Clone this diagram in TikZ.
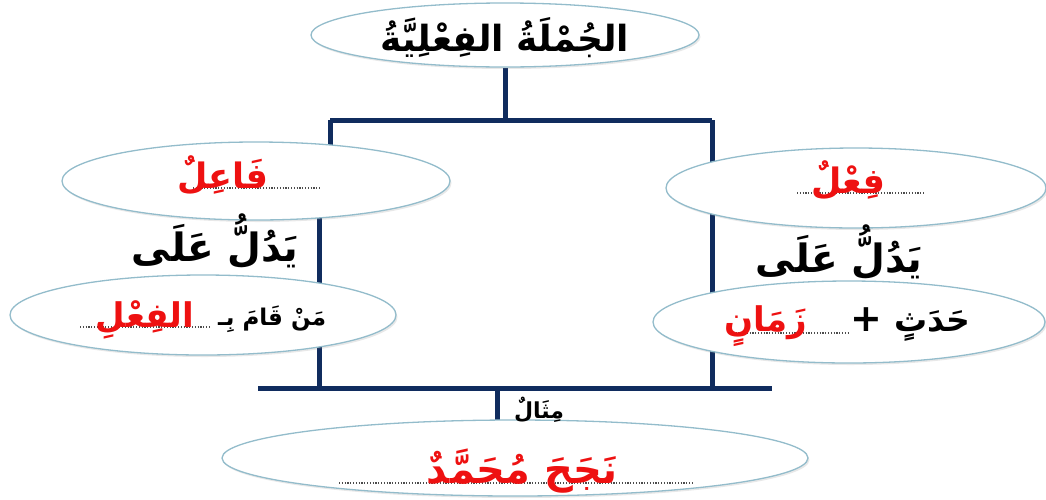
\documentclass[tikz,border=0pt]{standalone}
\usepackage{fontspec}
\usetikzlibrary{shapes.geometric,shadows}
\TeXXeTstate=1
\newfontfamily\arabicfont[Script=Arabic]{DejaVu Sans}
\definecolor{navy}{HTML}{102C5E}
\definecolor{rim}{HTML}{93BCCB}
\definecolor{redtxt}{HTML}{EE1111}
\pgfdeclarelayer{bg}
\pgfsetlayers{bg,main}
\newcommand{\ar}[1]{\beginR #1\endR}
\newcommand{\fs}[1]{\arabicfont\bfseries\fontsize{#1}{#1}\selectfont}
\begin{document}
\begin{tikzpicture}[x=1pt,y=-1pt,
  oval/.style={ellipse, draw=rim, line width=1.3pt, fill=white, inner sep=0pt,
    drop shadow={opacity=0.18, shadow xshift=1.5pt, shadow yshift=-2pt}},
  barline/.style={draw=navy, line width=5pt},
  lbl/.style={inner sep=0pt, anchor=base},
  dotline/.style={dash pattern=on 1.2pt off 1.6pt, line width=1.3pt, black!70}]
\useasboundingbox (0,0) rectangle (1046,499);
% ovals
\node[oval, minimum width=388pt, minimum height=64pt] (title) at (505,35) {};
\node[oval, minimum width=388pt, minimum height=78pt] (faail) at (256,181) {};
\node[oval, minimum width=380pt, minimum height=80pt] (fil) at (856,188) {};
\node[oval, minimum width=386pt, minimum height=80pt] (man) at (203,315) {};
\node[oval, minimum width=392pt, minimum height=82pt] (hadath) at (849,322) {};
\node[oval, minimum width=586pt, minimum height=76pt] (ex) at (515,458) {};
% junction points
\coordinate (tl) at (330,120);
\coordinate (tr) at (712,120);
\coordinate (bl) at (258,388);
\coordinate (br) at (772,388);
\coordinate (lv) at (319,388);
\coordinate (rv) at (712,388);
\coordinate (bm) at (497,388);
\begin{pgfonlayer}{bg}
\draw[barline] (title.south) -- (title.south |- tl);
\draw[barline] (tl) -- (tr);
\draw[barline] (tl) -- (tl |- faail.center);
\draw[barline] (tr) -- (tr |- fil.center);
\draw[barline] (lv |- faail.center) -- (lv);
\draw[barline] (rv |- fil.center) -- (rv);
\draw[barline] (bl) -- (br);
\draw[barline] (bm) -- (bm |- ex.center);
\end{pgfonlayer}
% title
\node[lbl, font=\fs{36}] (ttext) at (505,51) {\ar{الجُمْلَةُ الفِعْلِيَّةُ}};
% faail
\coordinate (d1a) at (193,188); \coordinate (d1b) at (320,188);
\draw[dotline] (d1a) -- (d1b);
\node[lbl, text=redtxt, font=\fs{35}] (faailtext) at (223,188) {\ar{فَاعِلٌ}};
% fil
\coordinate (d2a) at (797,193); \coordinate (d2b) at (925,193);
\draw[dotline] (d2a) -- (d2b);
\node[lbl, text=redtxt, font=\fs{35}] (filtext) at (848,193) {\ar{فِعْلٌ}};
% yadullu ala
\node[lbl, font=\fs{39}] (yadl) at (215,261) {\ar{يَدُلُّ عَلَى}};
\node[lbl, font=\fs{39}] (yadr) at (839,272) {\ar{يَدُلُّ عَلَى}};
% man qama bi al-fil
\coordinate (d3a) at (80,327); \coordinate (d3b) at (210,327);
\draw[dotline] (d3a) -- (d3b);
\node[lbl, font=\fs{23}] (mantext) at (272,325) {\ar{مَنْ قَامَ بِـ}};
\node[lbl, text=redtxt, font=\fs{34}] (alfil) at (145,327) {\ar{الفِعْلِ}};
% hadath + zaman
\coordinate (d4a) at (730,333); \coordinate (d4b) at (850,333);
\draw[dotline] (d4a) -- (d4b);
\node[lbl, font=\fs{33}] (hadtext) at (932,331) {\ar{حَدَثٍ}};
\node[lbl, font=\fs{38}] (plus) at (866,331) {+};
\node[lbl, text=redtxt, font=\fs{34}] (zaman) at (766,331) {\ar{زَمَانٍ}};
% mithal
\node[lbl, font=\fs{22}] (mithal) at (539,418) {\ar{مِثَالٌ}};
% example
\coordinate (d5a) at (339,483); \coordinate (d5b) at (693,483);
\draw[dotline] (d5a) -- (d5b);
\node[lbl, text=redtxt, font=\fs{40}] (extext) at (522,483) {\ar{نَجَحَ مُحَمَّدٌ}};
\end{tikzpicture}
\end{document}
